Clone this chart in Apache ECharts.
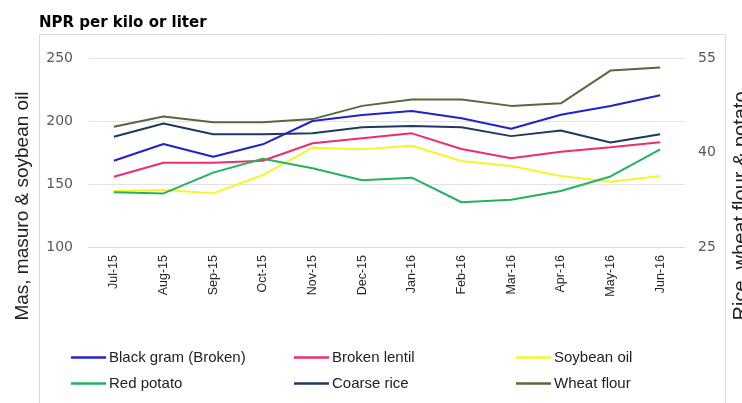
<!DOCTYPE html>
<html><head><meta charset="utf-8">
<script src="https://cdn.jsdelivr.net/npm/echarts@6/dist/echarts.min.js"></script>
<style>html,body{margin:0;padding:0;background:#fff}#c{width:742px;height:403px}</style>
</head><body><div id="c"></div>
<script>
const categories = ['Jul-15','Aug-15','Sep-15','Oct-15','Nov-15','Dec-15','Jan-16','Feb-16','Mar-16','Apr-16','May-16','Jun-16'];
const blackGram   = [168.5,181.7,171.7,181.5,200,204.8,207.9,202.1,193.9,205,211.9,220.4];
const brokenLentil= [155.8,166.9,166.9,168.5,182.3,186.3,190.2,177.8,170.4,175.6,179.1,183.1];
const soybeanOil  = [144.4,145.2,142.6,157.1,178.8,177.5,180.4,168.3,164.3,156.3,151.8,156.3];
const redPotato   = [33.7,33.5,36.8,39.0,37.5,35.6,36.0,32.1,32.5,33.9,36.2,40.5];
const coarseRice  = [42.5,44.6,42.9,42.9,43.05,44.0,44.2,44.0,42.6,43.5,41.6,42.9];
const wheatFlour  = [44.1,45.7,44.8,44.8,45.3,47.4,48.4,48.4,47.4,47.8,53.0,53.5];
const leftTicks = {min:100, max:250, interval:50};
const rightTicks = {min:25, max:55, interval:15};

const chart = echarts.init(document.getElementById('c'));
const mk = (name, data, color, yi) => ({name, type:'line', data, yAxisIndex:yi, symbol:'none',
  lineStyle:{color, width:2}, itemStyle:{color}});
const legendCommon = {orient:'vertical', icon:'rect', itemWidth:35, itemHeight:2.5, itemGap:11,
  textStyle:{fontFamily:'Liberation Sans', fontSize:15, color:'#222', padding:[0,0,0,-2]}, top:345, selectedMode:false};
chart.setOption({
  animation:false,
  title:{text:'NPR per kilo or liter', left:34, top:11, textStyle:{fontFamily:'DejaVu Sans', fontWeight:'bold', fontSize:15, color:'#000'}},
  grid:{left:89, right:57, top:58, bottom:156},
  graphic:[
    {type:'rect', shape:{x:39.5, y:34.5, width:686, height:380}, style:{fill:'none', stroke:'#d9d9d9', lineWidth:1}, z:-1},
    {type:'text', x:23, y:206, rotation:Math.PI/2, style:{text:'Mas, masuro & soybean oil', fontFamily:'Liberation Sans', fontSize:19, fill:'#222', align:'center', verticalAlign:'middle'}},
    {type:'text', x:741, y:206, rotation:Math.PI/2, style:{text:'Rice, wheat flour & potato', fontFamily:'Liberation Sans', fontSize:20, fill:'#222', align:'center', verticalAlign:'middle'}}
  ],
  legend:[
    Object.assign({left:66, data:['Black gram (Broken)','Red potato']}, legendCommon),
    Object.assign({left:289, data:['Broken lentil','Coarse rice']}, legendCommon),
    Object.assign({left:511, data:['Soybean oil','Wheat flour']}, legendCommon)
  ],
  xAxis:{type:'category', data:categories, boundaryGap:true,
    axisLine:{lineStyle:{color:'#d9d9d9'}}, axisTick:{show:false},
    axisLabel:{rotate:90, interval:0, margin:8, fontFamily:'Liberation Sans', fontSize:12.5, color:'#262626'}},
  yAxis:[
    {type:'value', min:leftTicks.min, max:leftTicks.max, interval:leftTicks.interval,
      axisLine:{show:false}, axisTick:{show:false},
      splitLine:{lineStyle:{color:'#e3e3e3'}},
      axisLabel:{margin:16, fontFamily:'DejaVu Sans', fontSize:14, color:'#595959'}},
    {type:'value', min:rightTicks.min, max:rightTicks.max, interval:rightTicks.interval,
      axisLine:{show:false}, axisTick:{show:false}, splitLine:{show:false},
      axisLabel:{margin:13, fontFamily:'DejaVu Sans', fontSize:14, color:'#595959'}}
  ],
  series:[
    mk('Black gram (Broken)', blackGram, '#2222cc', 0),
    mk('Broken lentil', brokenLentil, '#ee2d6e', 0),
    mk('Soybean oil', soybeanOil, '#f5f52a', 0),
    mk('Red potato', redPotato, '#22b362', 1),
    mk('Coarse rice', coarseRice, '#203864', 1),
    mk('Wheat flour', wheatFlour, '#56683e', 1)
  ]
});
</script></body></html>
